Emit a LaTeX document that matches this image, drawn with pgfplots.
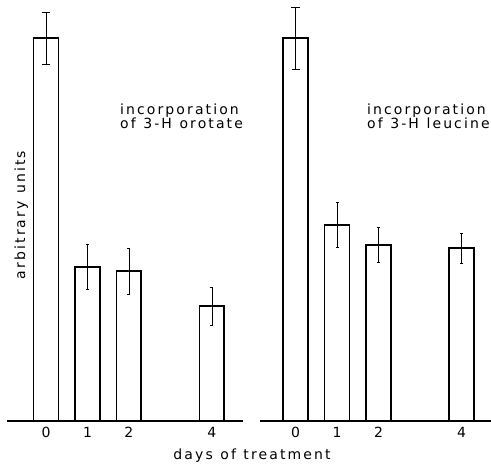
\documentclass[border=0pt]{standalone}
\usepackage{fontspec}
\setmainfont{DejaVu Sans}[LetterSpace=15, WordSpace=1.15]
\usepackage{pgfplots}
\pgfplotsset{compat=1.18}

\newcommand{\lab}{\fontsize{14bp}{15bp}\selectfont}

\pgfplotsset{
  panel/.style={
    scale only axis, height=421bp, ymin=0, ymax=110,
    axis y line=none, axis x line=bottom,
    axis line style={-, line width=1.3bp},
    xtick={0,1,2,4}, major tick length=0pt,
    /pgf/number format/assume math mode=true,
    ticklabel style={font=\lab, yshift=-3bp},
    clip=false, anchor=south west,
  },
  hbar/.style={ybar, bar width=0.6, fill=white, draw=black, line width=1.8bp,
    error bars/.cd, y dir=both, y explicit,
    error bar style={line width=0.7bp},
    error mark options={rotate=90, mark size=#1, line width=0.7bp}},
}

\begin{document}
\begin{tikzpicture}[x=1bp, y=1bp]
\useasboundingbox (0,0) rectangle (491,471);

% left panel: 3-H orotate
\begin{axis}[panel, width=236bp, xmin=-0.94, xmax=4.75, at={(7bp,50bp)}]
  \addplot[hbar=4bp] coordinates {(0,100) +- (0,6.8)};
  \addplot[hbar=1.5bp] coordinates {(1,40.2) +- (0,5.9) (2,39.2) +- (0,6.0) (4,30.0) +- (0,5.0)};
\end{axis}

% right panel: 3-H leucine
\begin{axis}[panel, width=231bp, xmin=-0.855, xmax=4.71, at={(260bp,50bp)}]
  \addplot[hbar=4bp] coordinates {(0,100) +- (0,8.1)};
  \addplot[hbar=1.5bp] coordinates {(1,51.2) +- (0,5.9) (2,46.0) +- (0,4.5) (4,45.1) +- (0,3.9)};
\end{axis}

\node[anchor=base west, font=\lab, inner sep=0pt] at (120,356) {incorporation};
\node[anchor=base west, font=\lab, inner sep=0pt] at (120,342) {of 3-H orotate};
\node[anchor=base west, font=\lab, inner sep=0pt] at (367,356) {incorporation};
\node[anchor=base west, font=\lab, inner sep=0pt] at (367,342) {of 3-H leucine};
\node[anchor=base, rotate=90, font=\lab, inner sep=0pt] at (25,256) {arbitrary units};
\node[anchor=base, font=\lab, inner sep=0pt] at (252,11) {days of treatment};
\end{tikzpicture}
\end{document}
